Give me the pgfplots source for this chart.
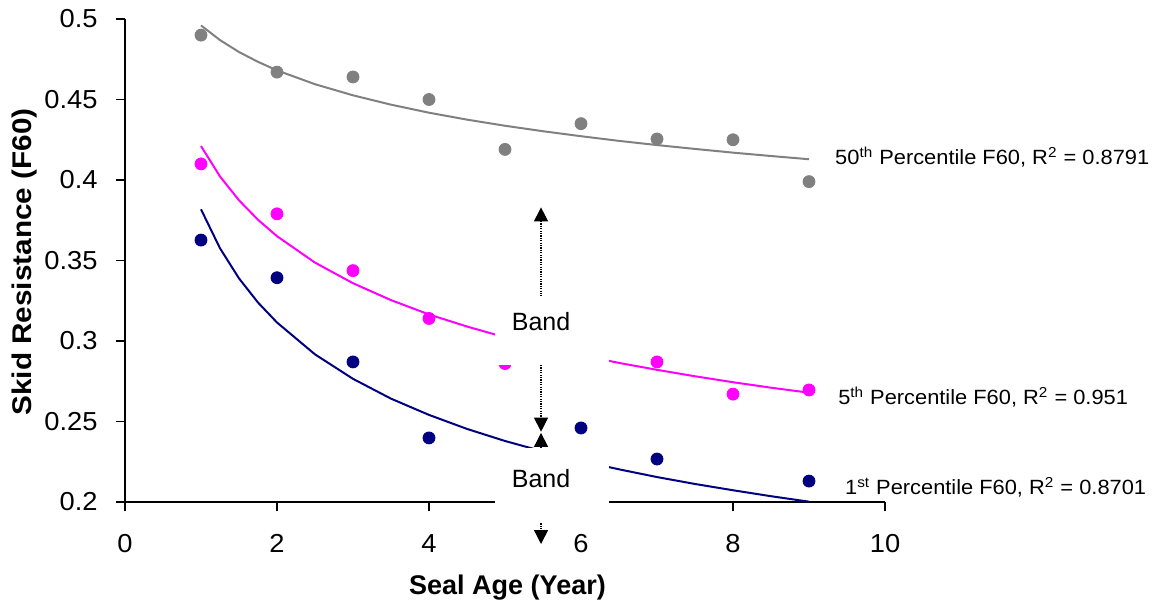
\documentclass[border=0pt]{standalone}
\usepackage{fontspec}
\setmainfont{Liberation Sans}
\newfontfamily\tickfont{Liberation Sans}[FakeStretch=1.05]
\newfontfamily\ylabfont{Liberation Sans}[FakeStretch=1.1]
\newfontfamily\xlabfont{Liberation Sans}[FakeStretch=1.0]
\newfontfamily\lblfont{Liberation Sans}[FakeStretch=1.06]
\usepackage{pgfplots}
\pgfplotsset{compat=1.18}
\usetikzlibrary{arrows.meta}
\definecolor{cgray}{RGB}{128,128,128}
\definecolor{cmag}{RGB}{255,0,255}
\definecolor{cnavy}{RGB}{0,0,128}

\begin{document}
\begin{tikzpicture}
\useasboundingbox (-62.5pt,-52.5pt) rectangle (518pt,251pt);
\begin{axis}[
  at={(0pt,0pt)}, anchor=south west,
  scale only axis, width=380pt, height=241.5pt,
  xmin=0, xmax=10, ymin=0.2, ymax=0.5,
  axis lines=left, axis line style={-, black, line width=0.7pt},
  xtick={0,2,4,6,8,10}, ytick={0.2,0.25,0.3,0.35,0.4,0.45,0.5},
  yticklabels={0.2,0.25,0.3,0.35,0.4,0.45,0.5},
  xticklabels={0,2,4,6,8,10},
  tick align=outside, major tick length=4.5pt,
  tick style={black, line width=0.7pt},
  /pgf/number format/assume math mode=true,
  tick label style={font=\tickfont\fontsize{13}{15}\selectfont},
  yticklabel style={anchor=east, inner sep=0pt, xshift=-9pt},
  xticklabel style={anchor=north, inner sep=0pt, yshift=-11.5pt},
  clip=false,
]
% data points
\addplot[only marks, mark=*, mark size=3pt, color=cgray, mark options={fill=cgray, draw=cgray}] coordinates {
(1,0.490) (2,0.467) (3,0.464) (4,0.450) (5,0.419) (6,0.435) (7,0.4255) (8,0.425) (9,0.399)};
\addplot[only marks, mark=*, mark size=3pt, color=cmag, mark options={fill=cmag, draw=cmag}] coordinates {
(1,0.410) (2,0.379) (3,0.3437) (4,0.314) (5,0.286) (6,0.290) (7,0.287) (8,0.267) (9,0.2696)};
\addplot[only marks, mark=*, mark size=3pt, color=cnavy, mark options={fill=cnavy, draw=cnavy}] coordinates {
(1,0.3627) (2,0.3393) (3,0.287) (4,0.2398) (5,0.225) (6,0.246) (7,0.2267) (9,0.213)};
% trend lines
\addplot[cgray, line width=1pt, mark=none] coordinates {
(1,0.4960) (1.25,0.4869) (1.5,0.4795) (1.75,0.4734) (2,0.4681) (2.5,0.4595) (3,0.4526) (3.5,0.4468) (4,0.4418) (4.5,0.4375) (5,0.4337) (5.5,0.4303) (6,0.4272) (6.5,0.4243) (7,0.4217) (7.5,0.4193) (8,0.4170) (8.5,0.4149) (9,0.4129)};
\addplot[cmag, line width=1pt, mark=none] coordinates {
(1,0.4211) (1.25,0.4022) (1.5,0.3874) (1.75,0.3753) (2,0.3651) (2.5,0.3487) (3,0.3359) (3.5,0.3254) (4,0.3165) (4.5,0.3090) (5,0.3023) (5.5,0.2964) (6,0.2912) (6.5,0.2864) (7,0.2821) (7.5,0.2781) (8,0.2744) (8.5,0.2710) (9,0.2679)};
\addplot[cnavy, line width=1pt, mark=none] coordinates {
(1,0.3818) (1.25,0.3576) (1.5,0.3389) (1.75,0.3239) (2,0.3115) (2.5,0.2917) (3,0.2765) (3.5,0.2642) (4,0.2541) (4.5,0.2454) (5,0.2379) (5.5,0.2314) (6,0.2255) (6.5,0.2203) (7,0.2155) (7.5,0.2112) (8,0.2073) (8.5,0.2036) (9,0.2002)};
% annotation anchors
\coordinate (b1a) at (axis cs:4.87,0.2851);
\coordinate (b1b) at (axis cs:6.37,0.3280);
\coordinate (b2a) at (axis cs:4.87,0.1870);
\coordinate (b2b) at (axis cs:6.37,0.2335);
\coordinate (a1t) at (axis cs:5.474,0.3830);
\coordinate (a1b) at (axis cs:5.474,0.2437);
\coordinate (a2t) at (axis cs:5.474,0.2429);
\coordinate (a2b) at (axis cs:5.474,0.1739);
\coordinate (t1) at (axis cs:5.474,0.3118);
\coordinate (t2) at (axis cs:5.474,0.2143);
\coordinate (l1) at (axis cs:9.34,0.4143);
\coordinate (l2) at (axis cs:9.38,0.2652);
\coordinate (l3) at (axis cs:9.47,0.2093);
\end{axis}
\draw[dash pattern=on 0.6pt off 0.6pt, line width=0.6pt, {Triangle[width=7pt,length=7pt]}-{Triangle[width=7pt,length=7pt]}] (a1t) -- (a1b);
\draw[dash pattern=on 0.6pt off 0.6pt, line width=0.6pt, {Triangle[width=7pt,length=7pt]}-{Triangle[width=7pt,length=7pt]}] (a2t) -- (a2b);
\fill[white] (b1a) rectangle (b1b);
\fill[white] (b2a) rectangle (b2b);
\node[font=\fontsize{12.5}{15}\selectfont] at (t1) {Band};
\node[font=\fontsize{12.5}{15}\selectfont] at (t2) {Band};
\node[anchor=west, inner sep=0pt, font=\lblfont\fontsize{10.3}{12}\selectfont] at (l1) {50\textsuperscript{th} Percentile F60, R\textsuperscript{2} = 0.8791};
\node[anchor=west, inner sep=0pt, font=\lblfont\fontsize{10.3}{12}\selectfont] at (l2) {5\textsuperscript{th} Percentile F60, R\textsuperscript{2} = 0.951};
\node[anchor=west, inner sep=0pt, font=\lblfont\fontsize{10.3}{12}\selectfont] at (l3) {1\textsuperscript{st} Percentile F60, R\textsuperscript{2} = 0.8701};
\node[rotate=90, font=\ylabfont\bfseries\fontsize{13.5}{16}\selectfont] at (-50pt,120pt) {Skid Resistance (F60)};
\node[font=\xlabfont\bfseries\fontsize{13.5}{16}\selectfont] at (191.25pt,-43pt) {Seal Age (Year)};
\end{tikzpicture}
\end{document}
